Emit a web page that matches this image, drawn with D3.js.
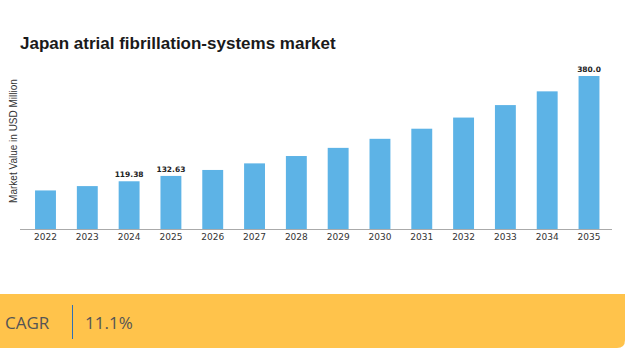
<!DOCTYPE html>
<html>
<head>
<meta charset="utf-8">
<script src="https://cdn.jsdelivr.net/npm/d3@7"></script>
<style>
  body { margin: 0; background: #fff; }
  svg { display: block; }
</style>
</head>
<body>
<div id="chart"></div>
<script>
// market values, USD million
var years = ["2022", "2023", "2024", "2025", "2026", "2027", "2028",
  "2029", "2030", "2031", "2032", "2033", "2034", "2035"];
var values = [96.7, 107.45, 119.38, 132.63, 147.4, 163.7, 181.9,
  202.1, 224.5, 249.5, 277.1, 308.0, 342.0, 380.0];
var labelled = ["2024", "2025", "2035"];
var cagr = "11.1%";

var svgWidth = 625;
var svgHeight = 348;

var svg = d3.select("#chart")
  .append("svg")
  .attr("width", svgWidth)
  .attr("height", svgHeight);

var data = years.map((y, i) => ({ year: y, value: values[i] }));

var baseY = 229.5;
var xScale = d3.scaleBand()
  .domain(years)
  .range([22.5, 612])
  .paddingInner(0.5)
  .paddingOuter(0.3);

var yScale = d3.scaleLinear()
  .domain([0, 380])
  .range([baseY, 76]);

// title
svg.append("text")
  .attr("x", 20)
  .attr("y", 49)
  .style("font", "bold 17px 'Liberation Sans', Arial, sans-serif")
  .style("fill", "#1a1a1a")
  .text("Japan atrial fibrillation-systems market");

// y axis title
svg.append("text")
  .attr("transform", "translate(17, 141) rotate(-90)")
  .attr("text-anchor", "middle")
  .style("font", "10px 'Liberation Sans', Arial, sans-serif")
  .style("fill", "#333")
  .text("Market Value in USD Million");

// bars
svg.selectAll("rect.bar")
  .data(data)
  .enter()
  .append("rect")
  .attr("class", "bar")
  .attr("x", d => xScale(d.year))
  .attr("width", xScale.bandwidth())
  .attr("y", d => yScale(d.value))
  .attr("height", d => baseY - yScale(d.value))
  .attr("fill", "#5db3e6");

// value labels
svg.selectAll("text.val")
  .data(data.filter(d => labelled.indexOf(d.year) >= 0))
  .enter()
  .append("text")
  .attr("class", "val")
  .attr("x", d => xScale(d.year) + xScale.bandwidth() / 2)
  .attr("y", d => yScale(d.value) - 4)
  .attr("text-anchor", "middle")
  .style("font", "bold 7.5px 'DejaVu Sans', sans-serif")
  .style("fill", "#222")
  .text(d => d.value.toFixed(d.value === 380 ? 1 : 2));

// x axis
var xAxis = svg.append("g")
  .attr("transform", `translate(0, ${baseY})`)
  .call(d3.axisBottom(xScale).tickSize(0).tickPadding(4));
xAxis.select(".domain")
  .attr("d", "M20,0H612")
  .attr("stroke", "#aaa");
xAxis.selectAll("text")
  .style("font", "9px 'DejaVu Sans', sans-serif")
  .style("fill", "#333");

// CAGR banner
svg.append("path")
  .attr("d", "M0,294H625V340Q625,348 617,348H0Z")
  .attr("fill", "#ffc34b");

svg.append("text")
  .attr("x", 5)
  .attr("y", 329)
  .style("font", "17px 'Open Sans', sans-serif")
  .style("fill", "#555")
  .text("CAGR");

svg.append("line")
  .attr("x1", 72.5).attr("x2", 72.5)
  .attr("y1", 305).attr("y2", 339)
  .attr("stroke", "#2f6fb5")
  .attr("stroke-width", 1);

svg.append("text")
  .attr("x", 85)
  .attr("y", 329)
  .style("font", "17px 'Open Sans', sans-serif")
  .style("fill", "#555")
  .text(cagr);
</script>
</body>
</html>
